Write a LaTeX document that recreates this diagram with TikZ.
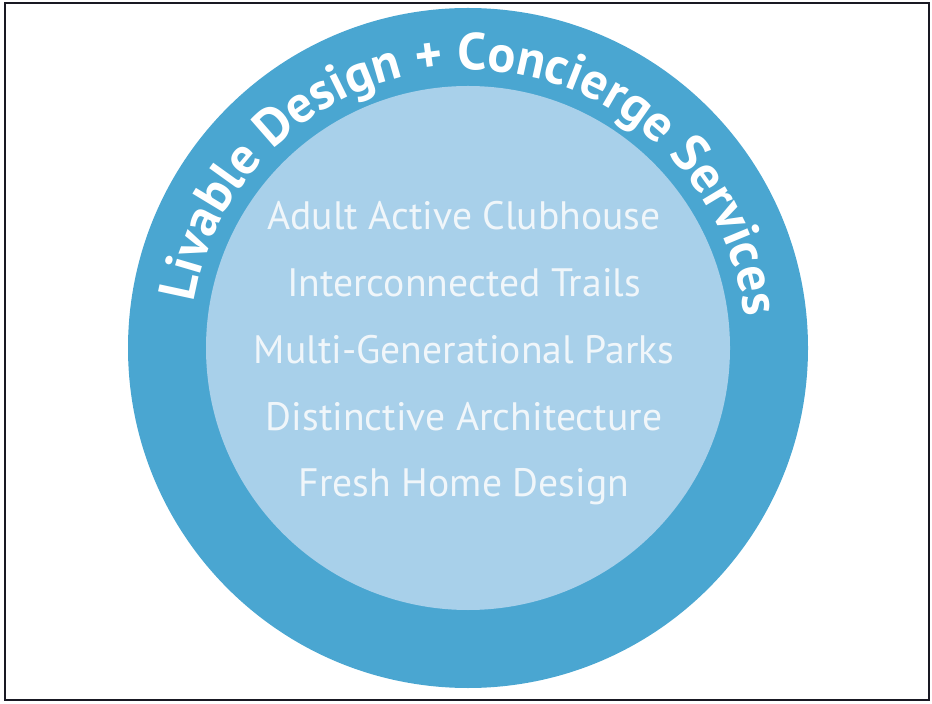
\documentclass[tikz,border=0pt]{standalone}
\usepackage{fontspec}
\setmainfont{PT Sans}
\usetikzlibrary{decorations.text}

\definecolor{ringblue}{RGB}{74,166,209}
\definecolor{coreblue}{RGB}{168,208,234}
\definecolor{softwhite}{RGB}{240,246,250}
\definecolor{framegray}{RGB}{25,25,35}
\newcommand{\ringfont}{\bfseries\fontsize{37}{40}\selectfont}

\begin{document}
\begin{tikzpicture}[node distance=1.667cm]
    \tikzstyle{feature}=[text=softwhite,font=\fontsize{28.2}{30}\selectfont,text height=0.75em,text depth=0.25em,inner sep=0pt]
    \useasboundingbox (0,0) rectangle (23.3,17.575);
    \draw[line width=1.4pt,color=framegray] (0.125,0.075) rectangle (23.225,17.5);
    \coordinate (ctr) at (11.7,8.875);
    % rings
    \fill[ringblue] (ctr) circle (8.5);
    \fill[coreblue] (ctr) circle (6.55);
    \path[decorate,decoration={text along path,text color=white,text align=center,
        text={|\ringfont|Livable Design + Concierge Services}}]
        ([shift={(178.5:6.95)}]ctr) arc (178.5:-1.5:6.95);
    % features
    \node[feature,anchor=base] (clubhouse) at (11.6,11.825) {Adult Active Clubhouse};
    \node[feature,below of=clubhouse] (trails) {Interconnected Trails};
    \node[feature,below of=trails] (parks) {Multi-Generational Parks};
    \node[feature,below of=parks] (architecture) {Distinctive Architecture};
    \node[feature,below of=architecture] (homedesign) {Fresh Home Design};
\end{tikzpicture}
\end{document}
